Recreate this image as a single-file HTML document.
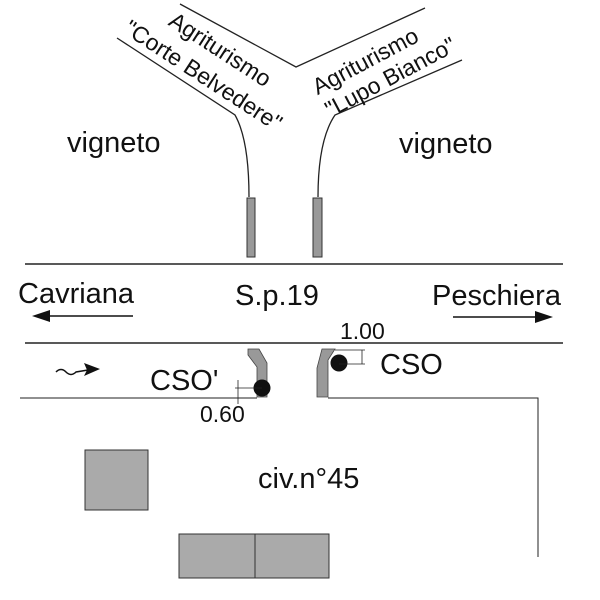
<!DOCTYPE html>
<html><head><meta charset="utf-8"><style>html,body{margin:0;padding:0;background:#fff}svg{display:block}</style></head>
<body>
<svg width="600" height="600" viewBox="0 0 600 600" xmlns="http://www.w3.org/2000/svg" font-family="Liberation Sans, Arial, sans-serif" fill="#111">
<g fill="none" stroke="#222" stroke-width="1.3">
<path d="M117,38 L235,115 Q249,140 249,197"/>
<path d="M180,4 L296,67 L425,8"/>
<path d="M462,60 L335,115 Q318,140 318,197"/>
<line x1="25" y1="264" x2="563" y2="264" stroke-width="1.5"/>
<line x1="25" y1="343" x2="563" y2="343" stroke-width="1.5"/>
<polyline points="20,398 257,398" stroke-width="1"/>
<polyline points="328,398 538,398 538,557" stroke-width="1"/>
</g>
<rect x="247" y="198" width="8" height="59" fill="#999" stroke="#333" stroke-width="1"/>
<rect x="313" y="198" width="9" height="59" fill="#999" stroke="#333" stroke-width="1"/>
<polygon points="248,349 259,349 267,363 267,397 257,397 257,367 248,355" fill="#999" stroke="#444" stroke-width="0.8"/>
<polygon points="322,349 335,349 328,360 328,397 317,397 317,368" fill="#999" stroke="#444" stroke-width="0.8"/>
<circle cx="262" cy="388" r="8.5" fill="#111"/>
<circle cx="339" cy="363" r="8.5" fill="#111"/>
<g stroke="#222" stroke-width="0.8" fill="none">
<line x1="362" y1="350" x2="362" y2="364"/><line x1="339" y1="364" x2="365" y2="364"/><line x1="335" y1="350" x2="365" y2="350"/>
<line x1="238" y1="380" x2="238" y2="404"/><line x1="235" y1="388" x2="262" y2="388"/>
</g>
<g stroke="#111" stroke-width="1.5">
<line x1="45" y1="316" x2="133" y2="316"/>
<line x1="453" y1="317" x2="540" y2="317"/>
</g>
<polygon points="32,316 50,310 50,322"/>
<polygon points="553,317 535,311 535,323"/>
<path d="M56,372 q5,-5 10,0 t10,0 L88,370" fill="none" stroke="#111" stroke-width="1.5"/>
<polygon points="100,369 84,363 87,370 84,376"/>
<rect x="85" y="450" width="63" height="60" fill="#aaa" stroke="#333" stroke-width="1"/>
<rect x="179" y="534" width="76" height="44" fill="#aaa" stroke="#333" stroke-width="1"/>
<rect x="255" y="534" width="74" height="44" fill="#aaa" stroke="#333" stroke-width="1"/>
<g font-size="29">
<text x="67" y="152">vigneto</text>
<text x="399" y="153">vigneto</text>
<text x="18" y="303">Cavriana</text>
<text x="235" y="305">S.p.19</text>
<text x="432" y="305">Peschiera</text>
<text x="150" y="390">CSO'</text>
<text x="380" y="374">CSO</text>
<text x="258" y="488">civ.n°45</text>
</g>
<g font-size="23">
<text x="340" y="339">1.00</text>
<text x="200" y="422">0.60</text>
</g>
<g font-size="23">
<text transform="translate(216,56) rotate(33)" text-anchor="middle">Agriturismo</text>
<text transform="translate(199,82) rotate(33)" text-anchor="middle">"Corte Belvedere"</text>
<text transform="translate(369,68) rotate(-28)" text-anchor="middle">Agriturismo</text>
<text transform="translate(394,84) rotate(-28)" text-anchor="middle">"Lupo Bianco"</text>
</g>
</svg>
</body></html>
